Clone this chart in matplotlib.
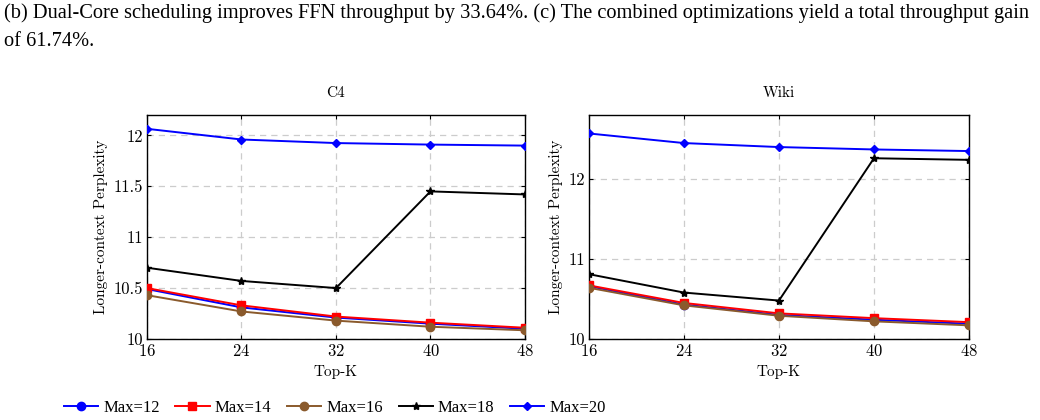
import numpy as np
import matplotlib
matplotlib.use("Agg")
import matplotlib.pyplot as plt

plt.rcParams['font.family'] = ['cmr10', 'DejaVu Serif']
plt.rcParams['axes.formatter.use_mathtext'] = True
plt.rcParams['mathtext.fontset'] = 'cm'

topk = [16, 24, 32, 40, 48]
labels = ['Max=12', 'Max=14', 'Max=16', 'Max=18', 'Max=20']

# C4 perplexity
c4_max12 = [10.49, 10.31, 10.21, 10.15, 10.10]
c4_max14 = [10.50, 10.33, 10.22, 10.16, 10.11]
c4_max16 = [10.43, 10.27, 10.18, 10.12, 10.085]
c4_max18 = [10.70, 10.57, 10.50, 11.45, 11.42]
c4_max20 = [12.065, 11.96, 11.925, 11.91, 11.90]

# Wiki perplexity
wiki_max12 = [10.66, 10.43, 10.30, 10.24, 10.19]
wiki_max14 = [10.67, 10.45, 10.32, 10.26, 10.21]
wiki_max16 = [10.64, 10.42, 10.29, 10.22, 10.17]
wiki_max18 = [10.81, 10.58, 10.48, 12.26, 12.24]
wiki_max20 = [12.57, 12.45, 12.40, 12.37, 12.35]

styles = [
    dict(color='#0000ff', marker='o', ms=6),
    dict(color='#ff0000', marker='s', ms=6),
    dict(color='#8a5a2c', marker='o', ms=6),
    dict(color='black', marker='*', ms=6),
    dict(color='#0000ff', marker='D', ms=4.5),
]

fig = plt.figure(figsize=(10.4, 4.2), dpi=100)

fig.text(0.004, 0.968, "(b) Dual-Core scheduling improves FFN throughput by 33.64%. (c) The combined optimizations yield a total throughput gain",
         fontsize=14.7, family='Liberation Serif', va='center', ha='left')
fig.text(0.004, 0.9, "of 61.74%.", fontsize=14.7, family='Liberation Serif', va='center', ha='left')

ax1 = fig.add_axes([0.1413, 0.193, 0.3635, 0.533])
ax2 = fig.add_axes([0.5663, 0.193, 0.3654, 0.533])

def draw(ax, series, title, ylim, yticks, yticklabels):
    lines = []
    for vals, st, lab in zip(series, styles, labels):
        l, = ax.plot(topk, vals, color=st['color'], marker=st['marker'], ms=st['ms'],
                     lw=1.4, label=lab, zorder=3)
        lines.append(l)
    ax.set_xlim(16, 48)
    ax.set_ylim(*ylim)
    ax.set_xticks(topk)
    ax.set_yticks(yticks)
    ax.set_yticklabels(yticklabels)
    ax.grid(True, ls=(0, (5, 4)), color='#cccccc', lw=0.9)
    ax.tick_params(direction='in', top=True, right=True, labelsize=12, length=3, pad=3)
    ax.set_title(title, fontsize=11, pad=13)
    ax.set_xlabel('Top-K', fontsize=11)
    ax.set_ylabel('Longer-context Perplexity', fontsize=11, labelpad=4)
    for sp in ax.spines.values():
        sp.set_linewidth(1.0)
    return lines

lines = draw(ax1, [c4_max12, c4_max14, c4_max16, c4_max18, c4_max20], 'C4',
             (10, 12.2), [10, 10.5, 11, 11.5, 12], ['10', '10.5', '11', '11.5', '12'])
draw(ax2, [wiki_max12, wiki_max14, wiki_max16, wiki_max18, wiki_max20], 'Wiki',
     (10, 12.8), [10, 11, 12], ['10', '11', '12'])

fig.legend(handles=lines, labels=labels, loc='center left', bbox_to_anchor=(0.047, 0.029),
           ncol=5, frameon=False, prop={'family': 'Liberation Serif', 'size': 12},
           handlelength=2.05, handletextpad=0.3, columnspacing=0.95)

fig.savefig('out.png', dpi=100)
